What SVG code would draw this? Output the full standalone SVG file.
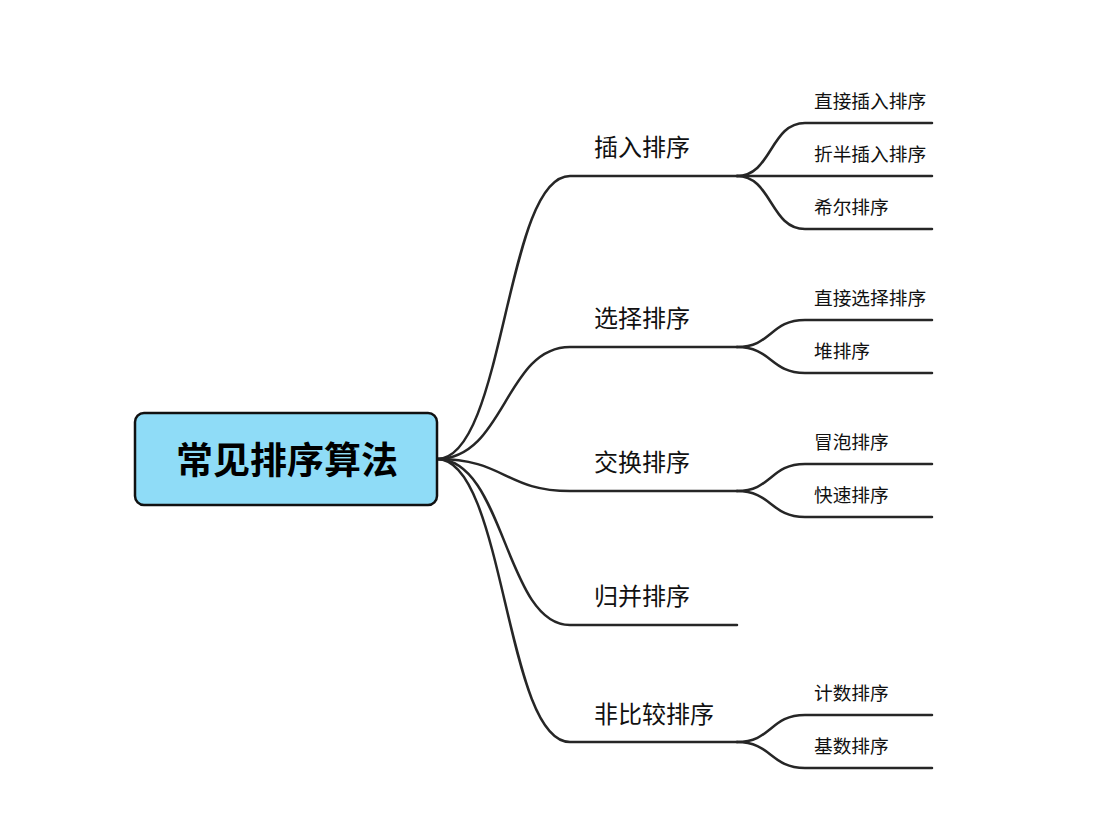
<svg xmlns="http://www.w3.org/2000/svg" width="1115" height="816" viewBox="0 0 1115 816">
<style>
.c{fill:none;stroke:#262626;stroke-width:2.5;stroke-linecap:round}
.t1{font-family:"Noto Sans CJK SC","Noto Sans",sans-serif;font-size:24px;fill:#111}
.t2{font-family:"Noto Sans CJK SC","Noto Sans",sans-serif;font-size:18.7px;fill:#111}
.r{font-family:"Noto Sans CJK SC","Noto Sans",sans-serif;font-size:37px;font-weight:bold;fill:#000}
</style>
<rect width="1115" height="816" fill="#fff"/>
<g id="connectors">
<path class="c" d="M437,459 C505,459 505,176 570,176 L737,176"/>
<path class="c" d="M437,459 C505,459 505,347 570,347 L737,347"/>
<path class="c" d="M437,459 C505,459 505,491 570,491 L737,491"/>
<path class="c" d="M437,459 C505,459 505,625 570,625 L737,625"/>
<path class="c" d="M437,459 C505,459 505,742 570,742 L737,742"/>
<path class="c" d="M737,176 C772,176 770,123 805,123 L932,123"/>
<path class="c" d="M737,176 L932,176"/>
<path class="c" d="M737,176 C772,176 770,229 805,229 L932,229"/>
<path class="c" d="M737,347 C772,347 770,320 805,320 L932,320"/>
<path class="c" d="M737,347 C772,347 770,373 805,373 L932,373"/>
<path class="c" d="M737,491 C772,491 770,464 805,464 L932,464"/>
<path class="c" d="M737,491 C772,491 770,517 805,517 L932,517"/>
<path class="c" d="M737,742 C772,742 770,715 805,715 L932,715"/>
<path class="c" d="M737,742 C772,742 770,768 805,768 L932,768"/>
</g>
<g id="root">
<rect x="135" y="413" width="302" height="92" rx="9" fill="#8fdcf7" stroke="#111" stroke-width="2.5"/>
<text class="r" x="287" y="474" text-anchor="middle">常见排序算法</text>
</g>
<g id="n-insert"><text class="t1" x="594" y="156">插入排序</text></g>
<g id="n-select"><text class="t1" x="594" y="327">选择排序</text></g>
<g id="n-swap"><text class="t1" x="594" y="471">交换排序</text></g>
<g id="n-merge"><text class="t1" x="594" y="605">归并排序</text></g>
<g id="n-noncmp"><text class="t1" x="594" y="723">非比较排序</text></g>
<g id="n-direct-insert"><text class="t2" x="814" y="108">直接插入排序</text></g>
<g id="n-binary-insert"><text class="t2" x="814" y="161">折半插入排序</text></g>
<g id="n-shell"><text class="t2" x="814" y="214">希尔排序</text></g>
<g id="n-direct-select"><text class="t2" x="814" y="305">直接选择排序</text></g>
<g id="n-heap"><text class="t2" x="814" y="358">堆排序</text></g>
<g id="n-bubble"><text class="t2" x="814" y="449">冒泡排序</text></g>
<g id="n-quick"><text class="t2" x="814" y="502">快速排序</text></g>
<g id="n-count"><text class="t2" x="814" y="700">计数排序</text></g>
<g id="n-radix"><text class="t2" x="814" y="753">基数排序</text></g>
</svg>
